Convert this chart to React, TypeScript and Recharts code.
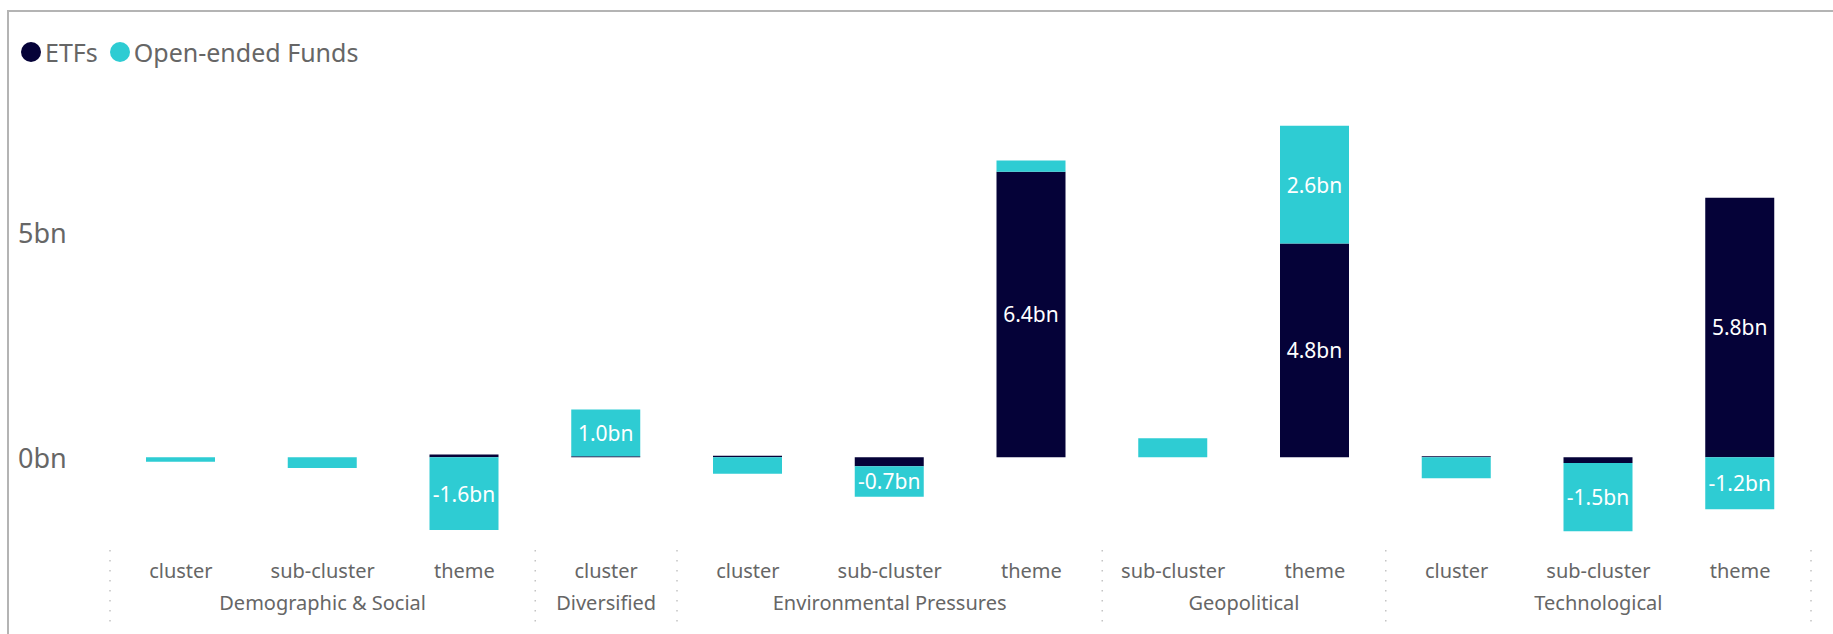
import React from "react"
import { Bar, BarChart, LabelList, XAxis, YAxis } from "recharts"

// level within each theme group
const levels = [
  "cluster", "sub-cluster", "theme",
  "cluster",
  "cluster", "sub-cluster", "theme",
  "sub-cluster", "theme",
  "cluster", "sub-cluster", "theme",
]

const groups = [
  "Demographic & Social", "Demographic & Social", "Demographic & Social",
  "Diversified",
  "Environmental Pressures", "Environmental Pressures", "Environmental Pressures",
  "Geopolitical", "Geopolitical",
  "Technological", "Technological", "Technological",
]

// flows in bn
const etfs = [0, 0, 0.06, 0.02, 0.03, -0.2, 6.36, 0, 4.76, 0.02, -0.13, 5.78]
const openEnded = [-0.1, -0.24, -1.62, 1.04, -0.37, -0.68, 0.25, 0.42, 2.62, -0.47, -1.52, -1.16]

const yTicks = [0, 5]

const data = levels.map((level, i) => ({
  level,
  group: groups[i],
  etfs: etfs[i],
  open: openEnded[i],
}))

const W = 1833
const H = 634
const PLOT_LEFT = 110
const PLOT_RIGHT = 22
const PLOT_BOTTOM = 547
const BAND = (W - PLOT_LEFT - PLOT_RIGHT) / data.length

const NAVY = "#050238"
const CYAN = "#2ECCD3"
const GREY = "#666666"
const FONT = "'Segoe UI', 'Noto Sans', sans-serif"

const CategoryTick = (props: any) => {
  const { x, payload } = props
  const i = payload.index
  const g = groups[i]
  const isFirst = i === 0 || groups[i - 1] !== g
  const isLast = i === groups.length - 1
  const count = groups.filter((v) => v === g).length
  const sep = (sx: number) => (
    <line
      x1={sx}
      x2={sx}
      y1={PLOT_BOTTOM + 3}
      y2={PLOT_BOTTOM + 77}
      stroke="#c4c4c4"
      strokeWidth={1.5}
      strokeDasharray="1.5 8.5"
    />
  )
  return (
    <g>
      <text
        x={x}
        y={PLOT_BOTTOM + 23}
        textAnchor="middle"
        dominantBaseline="central"
        fontSize={20}
        fill={GREY}
        fontFamily={FONT}
      >
        {payload.value}
      </text>
      {isFirst && (
        <text
          x={x + ((count - 1) / 2) * BAND}
          y={PLOT_BOTTOM + 55}
          textAnchor="middle"
          dominantBaseline="central"
          fontSize={20}
          fill={GREY}
          fontFamily={FONT}
        >
          {g}
        </text>
      )}
      {isFirst && sep(x - BAND / 2)}
      {isLast && sep(x + BAND / 2)}
    </g>
  )
}

const ValueTick = (props: any) => {
  const { y, payload } = props
  return (
    <text
      x={18}
      y={y}
      textAnchor="start"
      dominantBaseline="central"
      fontSize={27}
      fill={GREY}
      fontFamily={FONT}
    >
      {`${payload.value}bn`}
    </text>
  )
}

const SegmentLabel = (props: any) => {
  const { x, y, width, height, value } = props
  if (value == null || Math.abs(value) < 0.6) return null
  return (
    <text
      x={x + width / 2}
      y={y + height / 2}
      textAnchor="middle"
      dominantBaseline="central"
      fontSize={21}
      fill="#ffffff"
      fontFamily={FONT}
    >
      {`${Number(value).toFixed(1)}bn`}
    </text>
  )
}

const LegendDot = ({ color, label }: { color: string; label: string }) => (
  <span style={{ display: "inline-flex", alignItems: "center", marginRight: 12 }}>
    <span
      style={{
        width: 20,
        height: 20,
        borderRadius: "50%",
        background: color,
        display: "inline-block",
        marginRight: 4,
      }}
    />
    <span>{label}</span>
  </span>
)

export default function App() {
  return (
    <div
      style={{
        position: "absolute",
        left: 0,
        top: 0,
        width: W,
        height: H,
        overflow: "hidden",
        background: "#ffffff",
      }}
    >
      <div
        style={{
          position: "absolute",
          left: 7,
          top: 10,
          width: W,
          height: H + 20,
          borderLeft: "2px solid #b4b4b4",
          borderTop: "2px solid #b4b4b4",
        }}
      />
      <div
        style={{
          position: "absolute",
          left: 21,
          top: 36,
          height: 32,
          display: "flex",
          alignItems: "center",
          fontFamily: FONT,
          fontSize: 25,
          color: GREY,
          whiteSpace: "nowrap",
        }}
      >
        <LegendDot color={NAVY} label="ETFs" />
        <LegendDot color={CYAN} label="Open-ended Funds" />
      </div>
      <BarChart
        width={W}
        height={H}
        data={data}
        stackOffset="sign"
        margin={{ top: 98, right: PLOT_RIGHT, bottom: 7, left: 0 }}
        style={{ position: "absolute", left: 0, top: 0 }}
      >
        <XAxis
          dataKey="level"
          height={80}
          axisLine={false}
          tickLine={false}
          interval={0}
          tick={<CategoryTick />}
        />
        <YAxis
          width={PLOT_LEFT}
          domain={[-2, 8]}
          ticks={yTicks}
          axisLine={false}
          tickLine={false}
          tick={<ValueTick />}
        />
        <Bar dataKey="etfs" name="ETFs" stackId="a" fill={NAVY} barSize={69} isAnimationActive={false}>
          <LabelList dataKey="etfs" content={<SegmentLabel />} />
        </Bar>
        <Bar dataKey="open" name="Open-ended Funds" stackId="a" fill={CYAN} barSize={69} isAnimationActive={false}>
          <LabelList dataKey="open" content={<SegmentLabel />} />
        </Bar>
      </BarChart>
    </div>
  )
}
